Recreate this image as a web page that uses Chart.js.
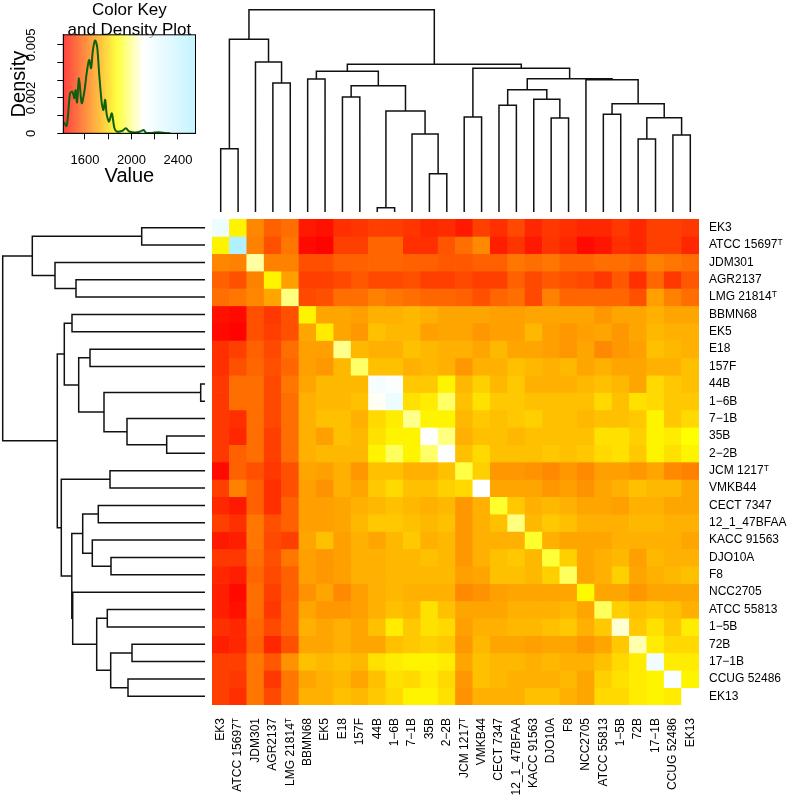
<!DOCTYPE html>
<html>
<head>
<meta charset="utf-8">
<script src="https://cdn.jsdelivr.net/npm/chart.js@4.4.1/dist/chart.umd.min.js"></script>
<style>
  html, body { margin: 0; padding: 0; background: #fff; }
  body { width: 794px; height: 799px; position: relative; overflow: hidden; }
  canvas { position: absolute; }
</style>
</head>
<body>
<canvas id="key" width="210" height="200" style="left:0;top:0"></canvas>
<canvas id="topTree" width="487" height="204" style="left:212px;top:8px"></canvas>
<canvas id="leftTree" width="205" height="486" style="left:0;top:219px"></canvas>
<canvas id="heat" width="582" height="580" style="left:212px;top:219px"></canvas>
<script>
// strains, in dendrogram order (same for rows and columns)
const strains = ['EK3', 'ATCC 15697\u1D40', 'JDM301', 'AGR2137', 'LMG 21814\u1D40', 'BBMN68', 'EK5', 'E18', '157F',
  '44B', '1\u22126B', '7\u22121B', '35B', '2\u22122B', 'JCM 1217\u1D40', 'VMKB44', 'CECT 7347', '12_1_47BFAA',
  'KACC 91563', 'DJO10A', 'F8', 'NCC2705', 'ATCC 55813', '1\u22125B', '72B', '17\u22121B', 'CCUG 52486', 'EK13'];

// cell values, one row per strain
const cellValues = [
  [2200,1860,1660,1590,1615,1460,1445,1500,1510,1530,1525,1510,1485,1495,1460,1530,1500,1545,1485,1515,1500,1485,1485,1515,1485,1530,1530,1515],
  [1860,2551,1650,1560,1630,1430,1420,1530,1530,1600,1600,1500,1500,1570,1615,1665,1470,1510,1460,1510,1485,1430,1455,1500,1485,1530,1530,1485],
  [1660,1650,2020,1650,1650,1560,1560,1590,1590,1600,1600,1590,1590,1575,1575,1590,1590,1630,1615,1630,1600,1600,1615,1615,1600,1650,1630,1615],
  [1590,1560,1650,1860,1705,1530,1530,1545,1575,1545,1545,1560,1530,1530,1545,1530,1530,1590,1545,1575,1560,1545,1515,1575,1500,1600,1515,1575],
  [1615,1630,1660,1715,1990,1545,1560,1615,1615,1650,1630,1615,1600,1600,1590,1560,1600,1615,1545,1650,1600,1600,1600,1600,1560,1705,1650,1615],
  [1445,1430,1560,1515,1560,1860,1715,1715,1705,1735,1735,1750,1735,1715,1715,1715,1705,1705,1715,1715,1715,1715,1690,1715,1715,1735,1715,1715],
  [1430,1420,1560,1530,1560,1715,1845,1715,1690,1765,1750,1750,1705,1715,1715,1690,1705,1705,1750,1705,1690,1705,1715,1690,1715,1750,1735,1735],
  [1500,1530,1590,1545,1615,1705,1705,2000,1750,1735,1735,1765,1750,1735,1735,1715,1750,1715,1715,1705,1690,1715,1665,1690,1705,1765,1750,1735],
  [1500,1560,1600,1560,1600,1705,1690,1750,1970,1765,1765,1735,1750,1735,1690,1735,1735,1765,1750,1735,1750,1715,1735,1715,1715,1735,1735,1765],
  [1515,1615,1615,1545,1630,1715,1750,1750,1750,2150,2120,1780,1780,1860,1750,1795,1750,1780,1735,1735,1735,1750,1765,1750,1715,1810,1780,1765],
  [1515,1615,1615,1545,1615,1735,1750,1750,1765,2090,2200,1825,1845,1970,1765,1825,1780,1780,1765,1765,1765,1765,1810,1765,1825,1810,1780,1780],
  [1515,1500,1615,1545,1615,1735,1765,1765,1735,1810,1845,2000,1860,1860,1750,1780,1765,1780,1795,1765,1765,1750,1765,1765,1780,1860,1780,1810],
  [1515,1485,1615,1530,1615,1735,1705,1765,1750,1825,1860,1860,2100,1990,1735,1765,1765,1750,1765,1765,1765,1765,1825,1825,1795,1860,1845,1880],
  [1515,1590,1615,1530,1615,1735,1750,1750,1750,1860,1960,1860,1970,2110,1765,1810,1765,1765,1765,1780,1765,1780,1810,1825,1780,1860,1825,1860],
  [1430,1590,1560,1515,1560,1715,1705,1735,1690,1765,1765,1735,1735,1765,1940,1795,1690,1690,1680,1665,1690,1665,1705,1705,1690,1715,1665,1650],
  [1530,1650,1590,1500,1560,1705,1680,1735,1715,1780,1810,1765,1765,1795,1810,2100,1715,1715,1715,1690,1705,1680,1715,1735,1765,1750,1750,1715],
  [1485,1460,1590,1500,1590,1705,1705,1715,1735,1750,1765,1750,1735,1750,1690,1735,1920,1780,1735,1750,1735,1715,1715,1705,1735,1735,1715,1715],
  [1530,1500,1630,1560,1590,1705,1705,1715,1750,1780,1780,1765,1750,1765,1690,1735,1765,1990,1750,1780,1765,1735,1735,1735,1750,1750,1735,1735],
  [1460,1470,1630,1545,1530,1715,1765,1705,1735,1715,1750,1780,1735,1750,1690,1735,1735,1735,1920,1735,1715,1715,1715,1735,1735,1735,1735,1715],
  [1515,1515,1615,1560,1630,1705,1690,1705,1735,1735,1750,1750,1765,1750,1690,1735,1765,1780,1750,1930,1795,1715,1735,1750,1705,1750,1735,1735],
  [1485,1470,1600,1545,1590,1705,1690,1705,1735,1735,1750,1750,1750,1750,1705,1715,1765,1765,1750,1795,1960,1715,1735,1795,1715,1735,1750,1765],
  [1470,1430,1615,1530,1590,1680,1715,1665,1705,1735,1750,1735,1735,1735,1665,1680,1705,1715,1715,1715,1715,1870,1715,1715,1690,1715,1715,1715],
  [1470,1445,1615,1515,1600,1715,1690,1690,1705,1735,1765,1750,1825,1765,1715,1715,1715,1735,1735,1735,1750,1715,1960,1795,1765,1780,1765,1735],
  [1500,1485,1600,1545,1600,1735,1715,1735,1715,1765,1845,1780,1825,1810,1705,1735,1735,1750,1750,1765,1780,1735,1780,2060,1780,1825,1780,1845],
  [1470,1485,1590,1485,1560,1715,1715,1735,1715,1715,1765,1780,1795,1780,1690,1750,1715,1715,1705,1715,1715,1690,1715,1780,2030,1845,1810,1810],
  [1530,1530,1630,1575,1680,1765,1750,1765,1750,1825,1845,1860,1860,1845,1715,1765,1750,1750,1735,1750,1735,1735,1765,1810,1845,2180,1845,1845],
  [1530,1515,1630,1515,1630,1715,1735,1750,1715,1765,1825,1810,1845,1810,1690,1765,1750,1735,1735,1735,1750,1715,1795,1825,1845,1860,2120,1860],
  [1530,1500,1630,1545,1630,1735,1735,1765,1750,1780,1810,1860,1860,1825,1680,1735,1735,1735,1765,1765,1735,1715,1810,1810,1845,1860,1845,2100]
];

// hclust-style merges: negative = leaf (1-based), positive = earlier merge; last = height
const treeMerges = [
  [-10, -11, 4.3], [-13, -14, 38.3], [-1, -2, 63.3], [-25, -26, 73], [-27, -28, 77],
  [-12, 2, 78], [-20, -21, 94], [4, 5, 94.3], [-15, -16, 95], [-23, -24, 97.7],
  [1, 6, 101], [-17, -18, 106.7], [10, 8, 108.3], [-19, 7, 112.7], [-8, -9, 115],
  [12, 14, 122.3], [15, 11, 126.3], [-4, -5, 129], [-22, 13, 132.3], [-6, -7, 133],
  [16, 19, 133.2], [20, 17, 140.7], [9, 21, 143.7], [22, 23, 147.7], [-3, 18, 150],
  [3, 25, 172.7], [26, 24, 202.3]
];

// colour ramp
const rampValues = [1414, 1880, 2100, 2551];
const rampColors = [[255, 0, 0], [255, 255, 0], [255, 255, 255], [176, 240, 255]];

// density curve of the colour key
const densityX = [1414,1443,1472,1492,1509,1520,1532,1549,1572,1595,1615,1636,1653,1667,1687,1705,1722,1745,1759,1774,1788,1808,1831,1854,1874,1918,1952,1981,2033,2076,2105,2125,2177,2234,2292,2335];
const densityY = [0.00066,0.00042,0.00226,0.00236,0.00198,0.00245,0.00174,0.00311,0.0017,0.00236,0.0034,0.00415,0.00368,0.00462,0.00525,0.0049,0.0034,0.0017,0.00132,0.00189,0.00104,0.00066,0.00113,0.00028,0.0001,0.00013,0.00028,0.0001,0.00004,0.0001,0.00019,0.00004,0.00002,0.00006,0.00002,0];
const valueTicks = [1600, 1800, 2000, 2200, 2400];
const valueLabels = ['1600', '', '2000', '', '2400'];
const densityTicks = [0, 0.001, 0.002, 0.003, 0.004, 0.005];
const densityLabels = ['0', '', '0.002', '', '', '0.005'];

const FONT = 'Liberation Sans, Arial, Helvetica, sans-serif';

function heatColor(v, alpha) {
  let k = 0;
  while (k < rampValues.length - 2 && v > rampValues[k + 1]) k++;
  let t = (v - rampValues[k]) / (rampValues[k + 1] - rampValues[k]);
  t = Math.max(0, Math.min(1, t));
  const c = rampColors[k].map((a, j) => Math.round(a + (rampColors[k + 1][j] - a) * t));
  return alpha == null ? `rgb(${c.join(',')})` : `rgba(${c.join(',')},${alpha})`;
}

function treePoints(vertical) {
  const pos = [], hgt = [], pts = [];
  const add = (p, h) => pts.push(vertical ? {x: p, y: h} : {x: h, y: p});
  treeMerges.forEach(([a, b, h], k) => {
    const pa = a < 0 ? -a - 1 : pos[a - 1], ha = a < 0 ? 0 : hgt[a - 1];
    const pb = b < 0 ? -b - 1 : pos[b - 1], hb = b < 0 ? 0 : hgt[b - 1];
    pos[k] = (pa + pb) / 2;
    hgt[k] = h;
    add(pa, ha); add(pa, h); add(pb, h); add(pb, hb);
    pts.push({x: NaN, y: NaN});
  });
  return pts;
}

function treeChart(id, vertical, scales) {
  return new Chart(document.getElementById(id), {
    type: 'scatter',
    data: {datasets: [{data: treePoints(vertical), showLine: true, spanGaps: false,
      borderColor: '#111', borderWidth: 1.5, pointRadius: 0}]},
    options: {
      responsive: false, animation: false, layout: {padding: 0},
      plugins: {legend: {display: false}, tooltip: {enabled: false}},
      scales: scales
    }
  });
}

treeChart('topTree', true, {
  x: {display: false, min: -0.5, max: 27.5},
  y: {display: false, min: 0, max: 204}
});
treeChart('leftTree', false, {
  x: {display: false, min: 0, max: 205, reverse: true},
  y: {display: false, min: -0.5, max: 27.5, reverse: true}
});

// heatmap: one stacked bar per column, one dataset per row
new Chart(document.getElementById('heat'), {
  type: 'bar',
  data: {
    labels: strains,
    datasets: cellValues.map(row => ({
      data: row.map(() => 1),
      backgroundColor: row.map(v => heatColor(v)),
      borderWidth: 0,
      barPercentage: 1,
      categoryPercentage: 1
    }))
  },
  options: {
    responsive: false, animation: false, layout: {padding: 0},
    plugins: {legend: {display: false}, tooltip: {enabled: false}},
    scales: {
      x: {
        stacked: true, position: 'bottom',
        grid: {display: false, drawTicks: false}, border: {display: false},
        ticks: {autoSkip: false, minRotation: 90, maxRotation: 90, padding: 13, color: '#000',
          font: {family: FONT, size: 12}},
        afterFit: s => { s.height = 94; s.paddingLeft = 0; s.paddingRight = 0; }
      },
      y: {stacked: true, display: false, min: 0, max: 28, reverse: true},
      rows: {
        type: 'category', labels: strains, position: 'right', offset: true,
        grid: {display: false, drawTicks: false}, border: {display: false},
        ticks: {autoSkip: false, padding: 10, color: '#000', font: {family: FONT, size: 12}},
        afterFit: s => { s.width = 95; s.paddingTop = 0; s.paddingBottom = 0; }
      }
    }
  }
});

// colour key background + frame
const keyBackground = {
  id: 'keyBackground',
  beforeDatasetsDraw(chart) {
    const {ctx, chartArea: a, scales: {x}} = chart;
    const grad = ctx.createLinearGradient(a.left, 0, a.right, 0);
    for (let i = 0; i <= 60; i++) {
      grad.addColorStop(i / 60, heatColor(x.min + (x.max - x.min) * i / 60, 0.75));
    }
    ctx.save();
    ctx.fillStyle = grad;
    ctx.fillRect(a.left, a.top, a.right - a.left, a.bottom - a.top);
    ctx.restore();
  },
  afterDatasetsDraw(chart) {
    const {ctx, chartArea: a} = chart;
    ctx.save();
    ctx.strokeStyle = '#000';
    ctx.lineWidth = 1;
    ctx.strokeRect(a.left, a.top, a.right - a.left, a.bottom - a.top);
    ctx.restore();
  }
};

new Chart(document.getElementById('key'), {
  type: 'scatter',
  data: {datasets: [{
    data: densityX.map((v, i) => ({x: v, y: densityY[i]})),
    showLine: true, borderColor: '#0d600d', borderWidth: 2, pointRadius: 0, tension: 0.3
  }]},
  options: {
    responsive: false, animation: false,
    layout: {padding: {left: 0, right: 14.5, top: 0, bottom: 0}},
    plugins: {
      legend: {display: false}, tooltip: {enabled: false},
      title: {display: true, text: ['Color Key', 'and Density Plot'], fullSize: false, color: '#000',
        font: {family: FONT, size: 17, weight: 'normal', lineHeight: 1.2}, padding: {top: 0, bottom: -6}}
    },
    scales: {
      x: {
        min: 1414, max: 2551,
        afterBuildTicks: s => { s.ticks = valueTicks.map(v => ({value: v})); },
        ticks: {autoSkip: false, maxRotation: 0, padding: 13, color: '#000',
          font: {family: FONT, size: 13}, callback: (v, i) => valueLabels[i]},
        grid: {drawOnChartArea: false, tickLength: 6, color: '#000'},
        border: {color: '#000'},
        title: {display: true, text: 'Value', color: '#000', font: {family: FONT, size: 20},
          padding: {top: 0, bottom: 12}},
        afterFit: s => { s.height = 66.7; }
      },
      y: {
        min: 0, max: 0.00557,
        afterBuildTicks: s => { s.ticks = densityTicks.map(v => ({value: v})); },
        ticks: {autoSkip: false, minRotation: 90, maxRotation: 90, crossAlign: 'center', padding: 10,
          color: '#000', font: {family: FONT, size: 13}, callback: (v, i) => densityLabels[i]},
        grid: {drawOnChartArea: false, tickLength: 6, color: '#000'},
        border: {color: '#000'},
        title: {display: true, text: 'Density', color: '#000', font: {family: FONT, size: 20},
          padding: {top: 7, bottom: 0}},
        afterFit: s => { s.width = 63.3; }
      }
    }
  },
  plugins: [keyBackground]
});
</script>
</body>
</html>
